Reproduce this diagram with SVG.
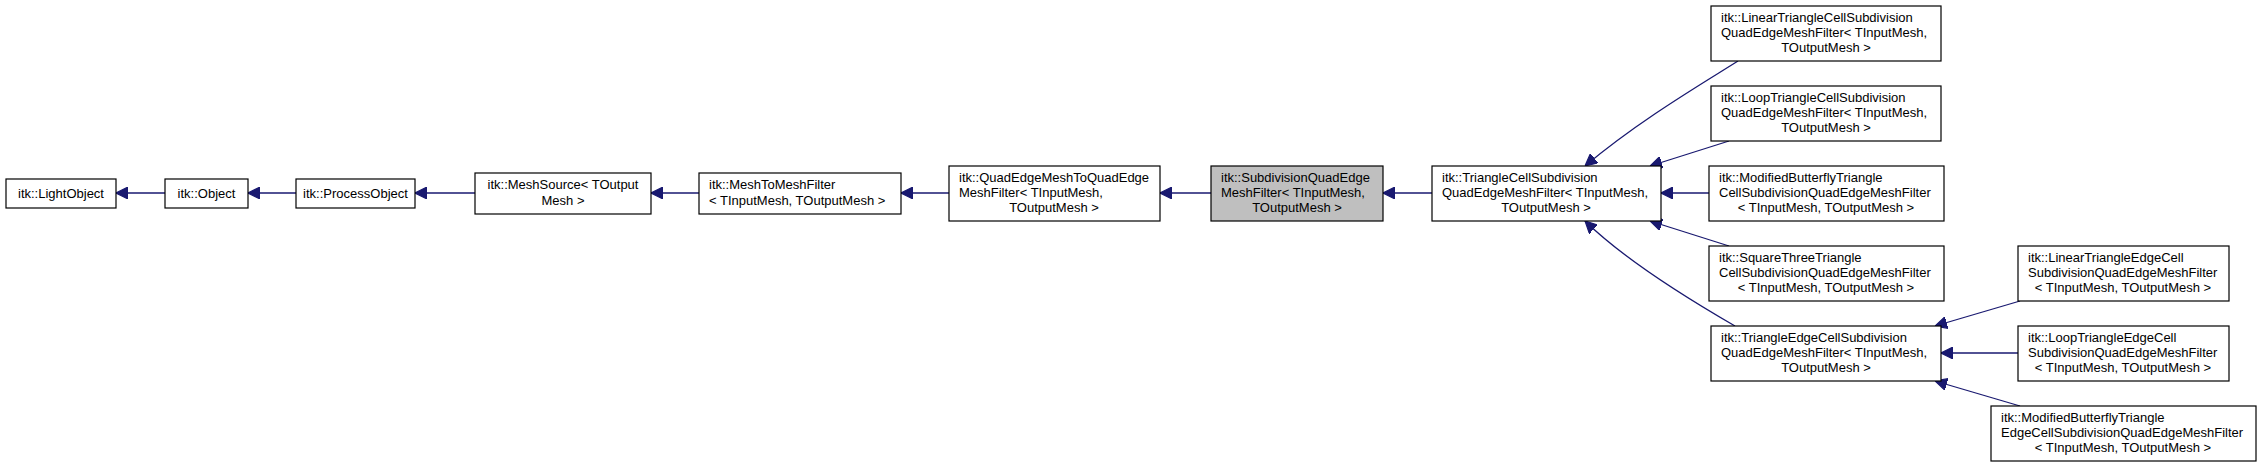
<svg xmlns="http://www.w3.org/2000/svg" width="2261" height="467" viewBox="0 0 2261 467">
<style>
.n rect{fill:#fff;stroke:#000;stroke-width:1.2}
.n text{font-family:"Liberation Sans",Arial,sans-serif;font-size:13px;fill:#000}
.e path{fill:none;stroke:#191970;stroke-width:1.3;marker-end:url(#a)}
</style>
<defs><marker id="a" viewBox="0 0 10 10" refX="10" refY="5" markerWidth="12" markerHeight="12" markerUnits="userSpaceOnUse" orient="auto"><path d="M0,0L10,5L0,10z" fill="#191970" stroke="#191970"/></marker></defs>
<rect width="2261" height="467" fill="#fff"/>
<g class="e">
<path d="M165,193H116"/>
<path d="M296,193H248"/>
<path d="M475,193H415"/>
<path d="M699,193H651"/>
<path d="M949,193H901"/>
<path d="M1211,193H1160"/>
<path d="M1432,193H1383"/>
<path d="M1738,61C1700,85 1640,120 1585,166"/>
<path d="M1729,141L1650,166"/>
<path d="M1709,193H1661"/>
<path d="M1729,246L1650,221"/>
<path d="M1735,326C1690,300 1625,260 1585,221"/>
<path d="M2020,301L1935,326"/>
<path d="M2018,353H1941"/>
<path d="M2020,406L1935,381"/>
</g>
<g id="n1" class="n"><rect x="6" y="179" width="110" height="29"/><text x="61" y="198" text-anchor="middle">itk::LightObject</text></g>
<g id="n2" class="n"><rect x="165" y="179" width="83" height="29"/><text x="206.5" y="198" text-anchor="middle">itk::Object</text></g>
<g id="n3" class="n"><rect x="296" y="179" width="119" height="29"/><text x="355.5" y="198" text-anchor="middle">itk::ProcessObject</text></g>
<g id="n4" class="n"><rect x="475" y="173" width="176" height="41"/><text x="563" y="189" text-anchor="middle">itk::MeshSource&lt; TOutput</text><text x="563" y="205" text-anchor="middle">Mesh &gt;</text></g>
<g id="n5" class="n"><rect x="699" y="173" width="202" height="41"/><text x="709" y="189">itk::MeshToMeshFilter</text><text x="709" y="205">&lt; TInputMesh, TOutputMesh &gt;</text></g>
<g id="n6" class="n"><rect x="949" y="166" width="211" height="55"/><text x="959" y="182">itk::QuadEdgeMeshToQuadEdge</text><text x="959" y="197">MeshFilter&lt; TInputMesh,</text><text x="1054" y="212" text-anchor="middle">TOutputMesh &gt;</text></g>
<g id="n7" class="n"><rect x="1211" y="166" width="172" height="55" style="fill:#bfbfbf"/><text x="1221" y="182">itk::SubdivisionQuadEdge</text><text x="1221" y="197">MeshFilter&lt; TInputMesh,</text><text x="1297" y="212" text-anchor="middle">TOutputMesh &gt;</text></g>
<g id="n8" class="n"><rect x="1432" y="166" width="229" height="55"/><text x="1442" y="182">itk::TriangleCellSubdivision</text><text x="1442" y="197">QuadEdgeMeshFilter&lt; TInputMesh,</text><text x="1546" y="212" text-anchor="middle">TOutputMesh &gt;</text></g>
<g id="n9" class="n"><rect x="1711" y="6" width="230" height="55"/><text x="1721" y="22">itk::LinearTriangleCellSubdivision</text><text x="1721" y="37">QuadEdgeMeshFilter&lt; TInputMesh,</text><text x="1826" y="52" text-anchor="middle">TOutputMesh &gt;</text></g>
<g id="n10" class="n"><rect x="1711" y="86" width="230" height="55"/><text x="1721" y="102">itk::LoopTriangleCellSubdivision</text><text x="1721" y="117">QuadEdgeMeshFilter&lt; TInputMesh,</text><text x="1826" y="132" text-anchor="middle">TOutputMesh &gt;</text></g>
<g id="n11" class="n"><rect x="1709" y="166" width="235" height="55"/><text x="1719" y="182">itk::ModifiedButterflyTriangle</text><text x="1719" y="197">CellSubdivisionQuadEdgeMeshFilter</text><text x="1826" y="212" text-anchor="middle">&lt; TInputMesh, TOutputMesh &gt;</text></g>
<g id="n12" class="n"><rect x="1709" y="246" width="235" height="55"/><text x="1719" y="262">itk::SquareThreeTriangle</text><text x="1719" y="277">CellSubdivisionQuadEdgeMeshFilter</text><text x="1826" y="292" text-anchor="middle">&lt; TInputMesh, TOutputMesh &gt;</text></g>
<g id="n13" class="n"><rect x="1711" y="326" width="230" height="55"/><text x="1721" y="342">itk::TriangleEdgeCellSubdivision</text><text x="1721" y="357">QuadEdgeMeshFilter&lt; TInputMesh,</text><text x="1826" y="372" text-anchor="middle">TOutputMesh &gt;</text></g>
<g id="n14" class="n"><rect x="2018" y="246" width="211" height="55"/><text x="2028" y="262">itk::LinearTriangleEdgeCell</text><text x="2028" y="277">SubdivisionQuadEdgeMeshFilter</text><text x="2123" y="292" text-anchor="middle">&lt; TInputMesh, TOutputMesh &gt;</text></g>
<g id="n15" class="n"><rect x="2018" y="326" width="211" height="55"/><text x="2028" y="342">itk::LoopTriangleEdgeCell</text><text x="2028" y="357">SubdivisionQuadEdgeMeshFilter</text><text x="2123" y="372" text-anchor="middle">&lt; TInputMesh, TOutputMesh &gt;</text></g>
<g id="n16" class="n"><rect x="1991" y="406" width="265" height="55"/><text x="2001" y="422">itk::ModifiedButterflyTriangle</text><text x="2001" y="437">EdgeCellSubdivisionQuadEdgeMeshFilter</text><text x="2123" y="452" text-anchor="middle">&lt; TInputMesh, TOutputMesh &gt;</text></g>
</svg>
